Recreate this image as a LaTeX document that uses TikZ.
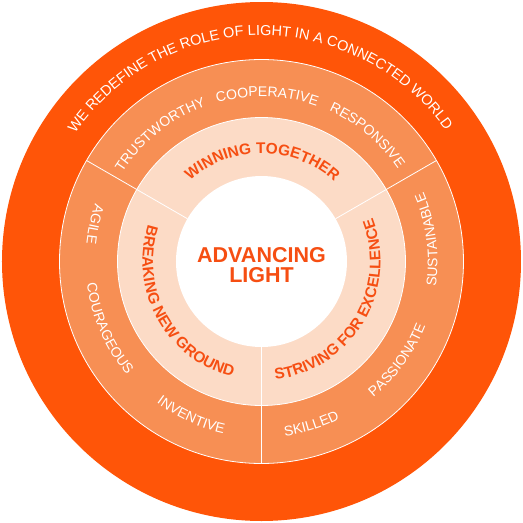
\documentclass[tikz,border=0pt]{standalone}
\usepackage{fontspec}
\setmainfont{Liberation Sans}
\usetikzlibrary{decorations.text}
\definecolor{outerorange}{RGB}{255,85,8}
\definecolor{midorange}{RGB}{247,143,84}
\definecolor{peach}{RGB}{252,219,198}
\definecolor{labelorange}{RGB}{246,78,18}
\newcommand\cwtext[5]{% center angle, radius, half span, format, text
  \path[decorate,decoration={text along path,text align=center,text={|#4|#5}}]
    ({#1+#3}:#2pt) arc[start angle={#1+#3}, end angle={#1-#3}, radius=#2pt];}
\newcommand\ccwtext[5]{%
  \path[decorate,decoration={text along path,text align=center,text={|#4|#5}}]
    ({#1-#3}:#2pt) arc[start angle={#1-#3}, end angle={#1+#3}, radius=#2pt];}
\newcommand\wordfont{\color{white}\fontsize{14}{14}\selectfont}
\newcommand\boldfont{\color{labelorange}\bfseries\fontsize{15.4}{15.4}\selectfont}
\newcommand\outerfont{\color{white}\fontsize{14.5}{14.5}\selectfont}
\begin{document}
\begin{tikzpicture}[x=1pt,y=1pt,
  ringline/.style={draw=white,line width=0.8pt}]
\useasboundingbox (-261.5,-261.5) rectangle (261.5,261.5);
\fill[outerorange] (0,0) circle[radius=259.5pt];
\fill[midorange] (0,0) circle[radius=202pt];
\fill[peach] (0,0) circle[radius=144pt];
\fill[white] (0,0) circle[radius=85.5pt];
\draw[ringline] (0,0) circle[radius=202pt];
\draw[ringline] (0,0) circle[radius=144pt];
\foreach \a in {30,150,270}
  \draw[ringline] (\a:85.5pt) -- (\a:202pt);
% outer slogan
\cwtext{90.5}{226}{85}{\outerfont}{WE REDEFINE THE ROLE OF LIGHT IN A CONNECTED WORLD}
% middle ring words
\cwtext{128.5}{165}{40}{\wordfont}{TRUSTWORTHY}
\cwtext{88}{165}{40}{\wordfont}{COOPERATIVE}
\cwtext{50}{165}{40}{\wordfont}{RESPONSIVE}
\ccwtext{7.5}{176}{40}{\wordfont}{SUSTAINABLE}
\ccwtext{-36}{176}{40}{\wordfont}{PASSIONATE}
\ccwtext{-73}{176}{40}{\wordfont}{SKILLED}
\ccwtext{167.5}{176}{40}{\wordfont}{AGILE}
\ccwtext{203.7}{176}{40}{\wordfont}{COURAGEOUS}
\ccwtext{245.5}{176}{40}{\wordfont}{INVENTIVE}
% inner ring labels
\cwtext{89.5}{108}{75}{\boldfont}{WINNING TOGETHER}
\ccwtext{209}{119}{75}{\boldfont}{BREAKING NEW GROUND}
\ccwtext{-31}{119}{75}{\boldfont}{STRIVING FOR EXCELLENCE}
% centre
\node[text=labelorange,font=\bfseries\fontsize{21.5}{20}\selectfont,align=center,inner sep=0pt]
  (title) at (0,-3.5) {ADVANCING\\LIGHT};
\end{tikzpicture}
\end{document}
